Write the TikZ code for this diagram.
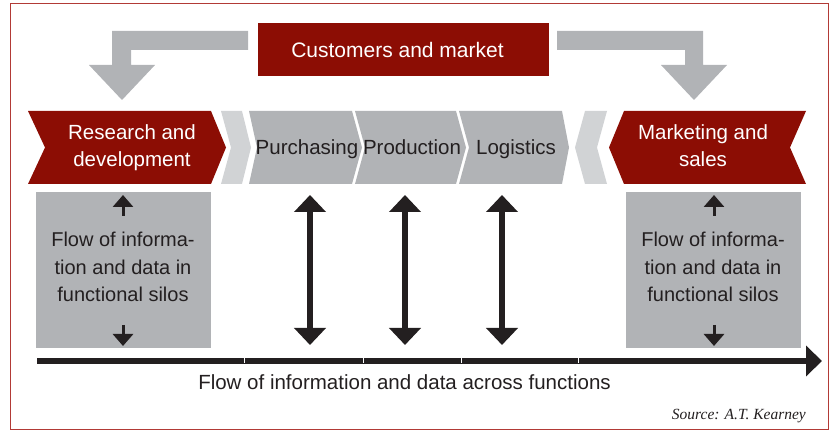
\documentclass[tikz,border=0pt]{standalone}
\usepackage{fontspec}
\setmainfont{Liberation Sans}
\newfontfamily\srcfont{Liberation Serif}
\usetikzlibrary{arrows.meta}
\definecolor{kred}{HTML}{8C0D04}
\definecolor{kgray}{HTML}{B1B3B6}
\definecolor{klight}{HTML}{D1D3D5}
\definecolor{ktext}{HTML}{231F20}
\definecolor{kborder}{HTML}{B23A36}
\tikzset{
  lbl/.style={font=\fontsize{20.5}{27}\selectfont, text=ktext, inner sep=0pt, align=center},
  wlbl/.style={lbl, text=white},
  boxlbl/.style={font=\fontsize{20}{27.5}\selectfont, text=ktext, inner sep=0pt, align=center},
  silo/.style={fill=kgray, draw=none, inner sep=0pt, minimum width=175pt, minimum height=156pt},
  bigarrow/.style={draw=ktext, line width=5.5pt, {Triangle[width=31pt,length=17pt]}-{Triangle[width=31pt,length=17pt]}},
  smallarrow/.style={draw=ktext, line width=3pt, -{Triangle[width=20pt,length=12pt]}},
  flowarrow/.style={draw=ktext, line width=5.5pt, -{Triangle[width=30pt,length=16pt]}},
}
\begin{document}
\begin{tikzpicture}[x=1pt,y=-1pt]
\useasboundingbox (0,0) rectangle (833,430);
\draw[kborder, line width=1pt] (10,4) rectangle (828,429);

% customers and market
\node[fill=kred, minimum width=291pt, minimum height=53pt, inner sep=0pt] (cust) at (403.5,49.5) {};
\node[font=\fontsize{21}{25}\selectfont, text=white, inner sep=0pt] (custt) at (397.5,49.5) {Customers and market};

% L-shaped grey arrows
\fill[kgray] (248,31) -- (112,31) -- (112,65) -- (89,65) -- (122,100) -- (155,65)
  -- (131,65) -- (131,50) -- (248,50) -- cycle;
\fill[kgray] (557,31) -- (703,31) -- (703,65) -- (727,65) -- (694,100) -- (661,65)
  -- (685,65) -- (685,50) -- (557,50) -- cycle;

% chevrons
\fill[kred] (28,111) -- (211,111) -- (226,147.5) -- (211,184) -- (28,184) -- (45,147.5) -- cycle;
\fill[klight] (221,111) -- (242,111) -- (251,147.5) -- (242,184) -- (221,184) -- (231,147.5) -- cycle;
\fill[kgray] (249,111) -- (352,111) -- (362,147.5) -- (352,184) -- (249,184) -- (257,147.5) -- cycle;
\fill[kgray] (355,111) -- (456,111) -- (466,147.5) -- (456,184) -- (355,184) -- (365,147.5) -- cycle;
\fill[kgray] (459,111) -- (562,111) -- (569,147.5) -- (562,184) -- (459,184) -- (469,147.5) -- cycle;
\fill[klight] (585,111) -- (607,111) -- (597,147.5) -- (607,184) -- (585,184) -- (575,147.5) -- cycle;
\fill[kred] (624,111) -- (806,111) -- (790,147.5) -- (806,184) -- (624,184) -- (609,147.5) -- cycle;

\node[wlbl] (rd) at (132,147.3) {Research and\\development};
\node[lbl, anchor=base] (pur) at (307,155) {Purchasing};
\node[lbl, anchor=base] (pro) at (412,155) {Production};
\node[lbl, anchor=base] (log) at (516,155) {Logistics};
\node[wlbl] (mkt) at (703,145.3) {Marketing and\\sales};

% silo boxes
\node[silo] (siloL) at (123.5,270) {};
\node[silo] (siloR) at (713.5,270) {};
\node[boxlbl] (siloLt) at (123,267.3) {Flow of informa-\\tion and data in\\functional silos};
\node[boxlbl] (siloRt) at (713,267.3) {Flow of informa-\\tion and data in\\functional silos};

\coordinate (sLa) at (123,216); \coordinate (sLb) at (123,195);
\coordinate (sLc) at (123,325); \coordinate (sLd) at (123,346);
\coordinate (sRa) at (714,216); \coordinate (sRb) at (714,195);
\coordinate (sRc) at (714,325); \coordinate (sRd) at (714,346);
\draw[smallarrow] (sLa) -- (sLb);
\draw[smallarrow] (sLc) -- (sLd);
\draw[smallarrow] (sRa) -- (sRb);
\draw[smallarrow] (sRc) -- (sRd);

% vertical double arrows
\coordinate (p1) at (310,195); \coordinate (p2) at (310,345);
\coordinate (q1) at (405,195); \coordinate (q2) at (405,345);
\coordinate (r1) at (502,195); \coordinate (r2) at (502,345);
\draw[bigarrow] (p1) -- (p2);
\draw[bigarrow] (q1) -- (q2);
\draw[bigarrow] (r1) -- (r2);

% bottom flow arrow
\coordinate (fa) at (37,361); \coordinate (fb) at (822,361);
\draw[flowarrow] (fa) -- (fb);
\foreach \xx in {244,363,461,578} \draw[white, line width=1pt] (\xx,358.5) -- (\xx,363.5);

\node[lbl, anchor=base] (flow) at (404.5,389) {Flow of information and data across functions};
\node[anchor=base east, inner sep=0pt, text=ktext, font=\srcfont\itshape\fontsize{15.5}{18}\selectfont] (src) at (806,419) {Source: A.T. Kearney};
\end{tikzpicture}
\end{document}
